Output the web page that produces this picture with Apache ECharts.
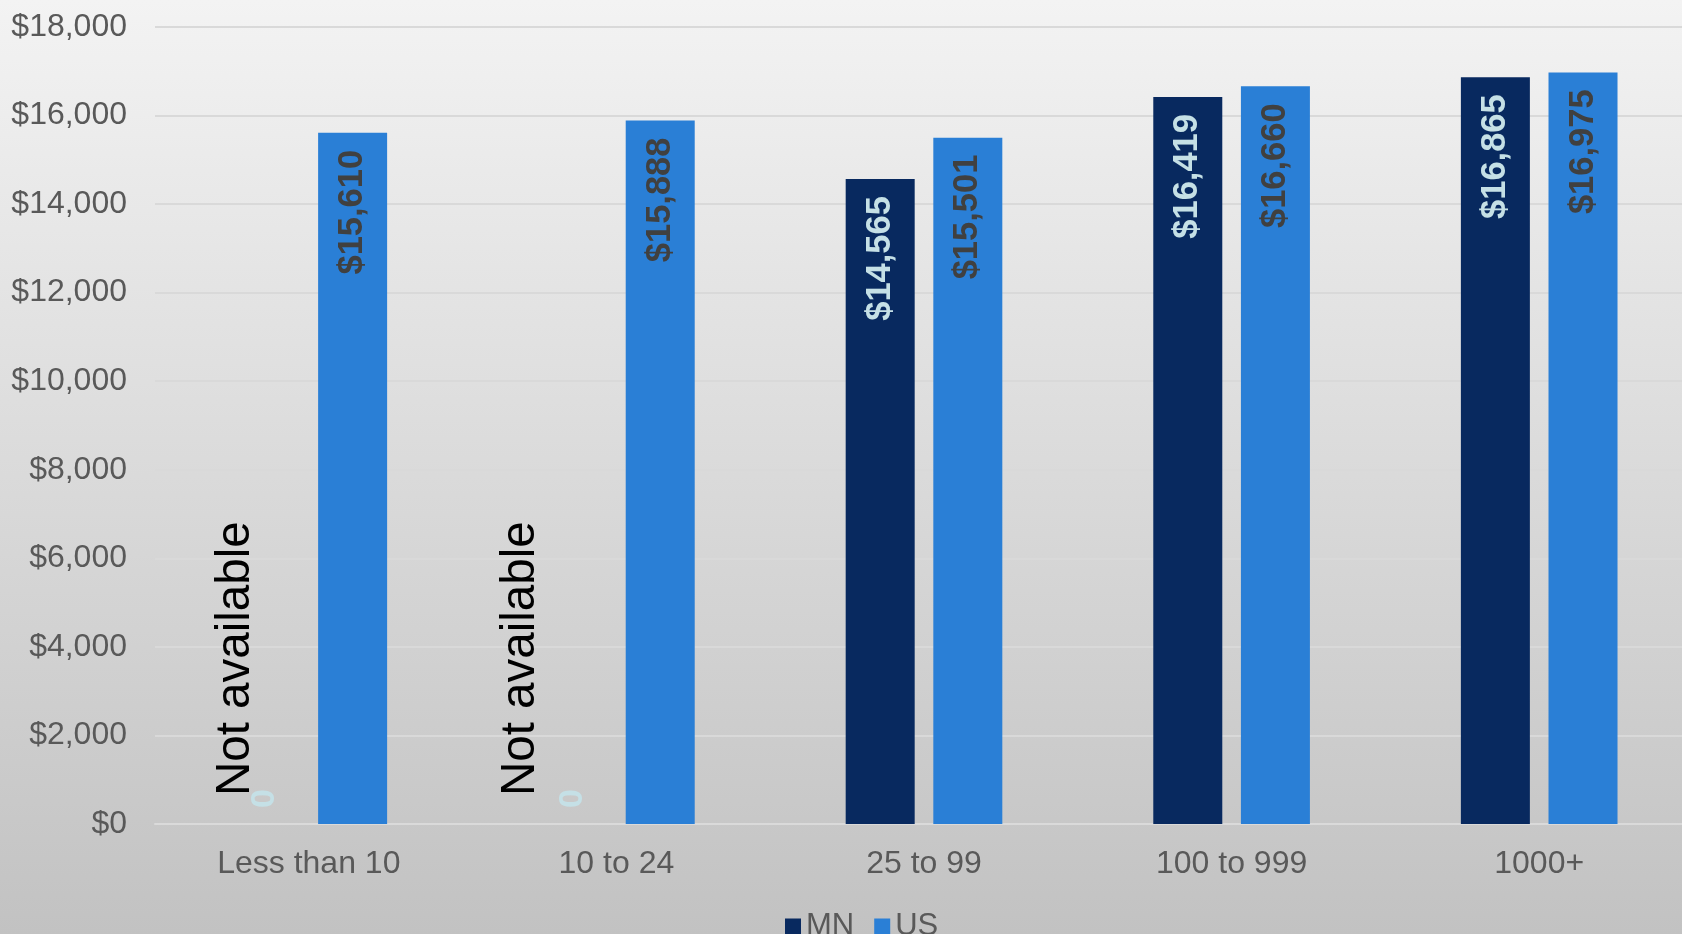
<!DOCTYPE html>
<html>
<head>
<meta charset="utf-8">
<script src="https://cdn.jsdelivr.net/npm/echarts@6/dist/echarts.min.js"></script>
<style>
html,body{margin:0;padding:0;}
#c{width:1682px;height:934px;}
</style>
</head>
<body>
<div id="c"></div>
<script>
const categories = ['Less than 10', '10 to 24', '25 to 99', '100 to 999', '1000+'];
const mnValues = [0, 0, 14565, 16419, 16865];
const usValues = [15610, 15888, 15501, 16660, 16975];
const notAvailableText = 'Not available';

const FONT = '"Liberation Sans", Arial, sans-serif';
const chart = echarts.init(document.getElementById('c'));

const fmt = v => '$' + Math.round(v).toLocaleString('en-US');

const valueLabel = (color) => ({
  show: true,
  position: 'insideTop',
  distance: 17,
  rotate: 90,
  align: 'right',
  verticalAlign: 'middle',
  color: color,
  fontFamily: FONT,
  fontWeight: 'bold',
  fontSize: 34.5,
  formatter: p => fmt(p.value)
});

const zeroLabel = {
  show: true,
  position: 'top',
  distance: 16,
  rotate: 90,
  align: 'left',
  verticalAlign: 'middle',
  color: '#c5e0e6',
  fontFamily: FONT,
  fontWeight: 'bold',
  fontSize: 34,
  formatter: () => '0'
};

chart.setOption({
  backgroundColor: {
    type: 'linear', x: 0, y: 0, x2: 0, y2: 1,
    colorStops: [{offset: 0, color: '#f3f3f3'}, {offset: 1, color: '#c2c2c2'}]
  },
  animation: false,
  textStyle: {fontFamily: FONT},
  grid: {left: 155, top: 27, width: 1538, bottom: 110, containLabel: false, outerBoundsMode: 'none'},
  legend: {
    data: ['MN', 'US'],
    left: 780,
    top: 906,
    itemWidth: 16,
    itemHeight: 16,
    itemGap: 20,
    icon: 'rect',
    textStyle: {fontSize: 31, color: '#595959', fontFamily: FONT}
  },
  xAxis: {
    type: 'category',
    data: categories,
    axisTick: {show: false},
    axisLine: {show: true, lineStyle: {color: '#dadada', width: 2}},
    axisLabel: {fontSize: 32, color: '#595959', fontFamily: FONT, margin: 24}
  },
  yAxis: {
    type: 'value',
    min: 0,
    max: 18000,
    interval: 2000,
    axisLine: {show: false},
    axisTick: {show: false},
    splitLine: {lineStyle: {color: '#d9d9d9', width: 2}},
    axisLabel: {fontSize: 32, color: '#595959', fontFamily: FONT, margin: 28, formatter: v => fmt(v)}
  },
  series: [
    {
      name: 'MN',
      type: 'bar',
      barWidth: 69,
      barGap: '27%',
      itemStyle: {color: '#08295f'},
      label: valueLabel('#c5e0e6'),
      data: mnValues.map(v => v === 0 ? {value: 0, label: zeroLabel} : v)
    },
    {
      name: 'US',
      type: 'bar',
      barWidth: 69,
      barGap: '27%',
      itemStyle: {color: '#2a7fd6'},
      label: valueLabel('#404040'),
      data: usValues
    }
  ]
});

// annotation offsets from the category centre, as placed in the original
const noteShift = [-73, -95];
const y0 = chart.convertToPixel({yAxisIndex: 0}, 0);
const graphics = [];
let k = 0;
mnValues.forEach((v, i) => {
  if (v === 0) {
    const cx = chart.convertToPixel({xAxisIndex: 0}, categories[i]);
    graphics.push({
      type: 'text',
      x: cx + (noteShift[k] !== undefined ? noteShift[k] : -80),
      y: y0 - 28,
      rotation: Math.PI / 2,
      style: {text: notAvailableText, font: '47.5px ' + FONT, fill: '#000000', align: 'left', verticalAlign: 'middle'}
    });
    k++;
  }
});
chart.setOption({graphic: graphics});
</script>
</body>
</html>
